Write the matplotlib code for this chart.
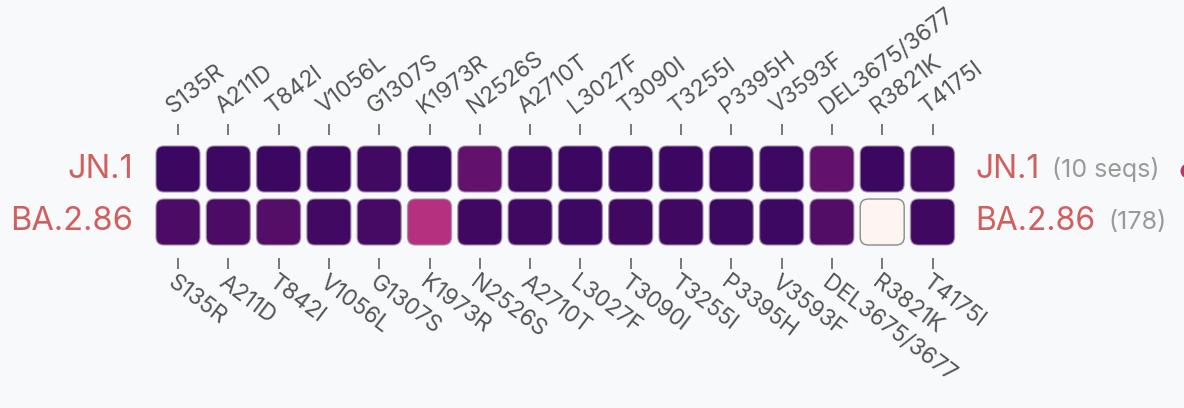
import matplotlib
matplotlib.use("Agg")
import matplotlib.pyplot as plt
from matplotlib.patches import FancyBboxPatch, Ellipse
from matplotlib.colors import LinearSegmentedColormap

plt.rcParams['font.family'] = ['Inter', 'DejaVu Sans']

mutations = ["S135R", "A211D", "T842I", "V1056L", "G1307S", "K1973R", "N2526S",
             "A2710T", "L3027F", "T3090I", "T3255I", "P3395H", "V3593F",
             "DEL3675/3677", "R3821K", "T4175I"]
lineages = ["JN.1", "BA.2.86"]
counts = ["(10 seqs)", "(178)"]
jn1_freq = [1.00, 0.99, 1.00, 1.00, 0.97, 1.00, 0.85, 0.98, 1.00, 1.00,
            1.00, 1.00, 0.99, 0.85, 1.00, 0.97]
ba286_freq = [0.93, 0.93, 0.90, 0.97, 0.96, 0.60, 0.98, 0.98, 0.99, 0.98,
              0.98, 0.99, 0.99, 0.91, 0.00, 0.98]
freqs = [jn1_freq, ba286_freq]

cmap = LinearSegmentedColormap.from_list(
    "mut", [(0.0, "#fdf5f2"), (0.3, "#f19aa6"), (0.6, "#b5317f"),
            (0.85, "#62126b"), (1.0, "#3b0760")])

W, H = 1184, 408
fig = plt.figure(figsize=(W / 100, H / 100), dpi=100)
bg = "#f8f9fa"
fig.patch.set_facecolor(bg)

# axes geometry (pixels)
x0_px, pitch_x = 178, 50.3
y0_px, pitch_y = 169, 53
top_px, bot_px = 135, 258
n = len(mutations)
left_px = x0_px - 0.5 * pitch_x
right_px = x0_px + (n - 0.5) * pitch_x
ax = fig.add_axes([left_px / W, (H - bot_px) / H, (right_px - left_px) / W, (bot_px - top_px) / H])
ax.set_facecolor("none")
ax.set_xlim(-0.5, n - 0.5)
ylo = 1 + (bot_px - (y0_px + pitch_y)) / pitch_y
yhi = -(y0_px - top_px) / pitch_y
ax.set_ylim(ylo, yhi)

cw, ch = 44 / pitch_x, 46 / pitch_y
r = 8 / pitch_x
asp = pitch_x / pitch_y
for ri, row in enumerate(freqs):
    for ci, v in enumerate(row):
        col = cmap(v)
        ec = "#8a8a8a" if v < 0.3 else (0.62, 0.55, 0.66, 0.75)
        p = FancyBboxPatch((ci - cw / 2, ri - ch / 2), cw, ch,
                           boxstyle=f"round,pad=0,rounding_size={r}",
                           mutation_aspect=asp, facecolor=col, edgecolor=ec,
                           linewidth=1.0)
        ax.add_patch(p)

for s in ax.spines.values():
    s.set_visible(False)
ax.set_yticks([])
ax.set_xticks(range(n))
ax.tick_params(axis="x", top=True, bottom=True, labeltop=False, labelbottom=False,
               direction="out", length=8, width=1.1, color="#555555")

lab_color = "#555555"
lab_size = 16.5
for i, m in enumerate(mutations):
    ax.annotate(m, xy=(i, 1), xycoords=("data", "axes fraction"),
                xytext=(-4, 15), textcoords="offset points",
                rotation=37, rotation_mode="anchor", ha="left", va="baseline",
                fontsize=lab_size, color=lab_color)
    ax.annotate(m, xy=(i, 0), xycoords=("data", "axes fraction"),
                xytext=(-0.5, -10), textcoords="offset points",
                rotation=-37, rotation_mode="anchor", ha="left", va="top",
                fontsize=lab_size, color=lab_color)

red = "#d0605e"
gray = "#9a9a9a"
for ri, name in enumerate(lineages):
    yc = ri
    ax.text(-0.5 - 20 / pitch_x, yc, name, ha="right", va="center", fontsize=23.5,
            color=red)
    t = ax.text(n - 0.5 + 18 / pitch_x, yc, name, ha="left", va="center",
                fontsize=23, color=red)
    ax.annotate(counts[ri], xy=(1, 0.5), xycoords=t, xytext=(9, 0),
                textcoords="offset points", ha="left", va="center",
                fontsize=18, color=gray)

fig.add_artist(Ellipse((1188 / W, 1 - 171 / H), 15 / W, 15 / H,
                       transform=fig.transFigure, facecolor="#c0306a",
                       edgecolor="none"))

fig.savefig("out.png", dpi=100, facecolor=bg)
